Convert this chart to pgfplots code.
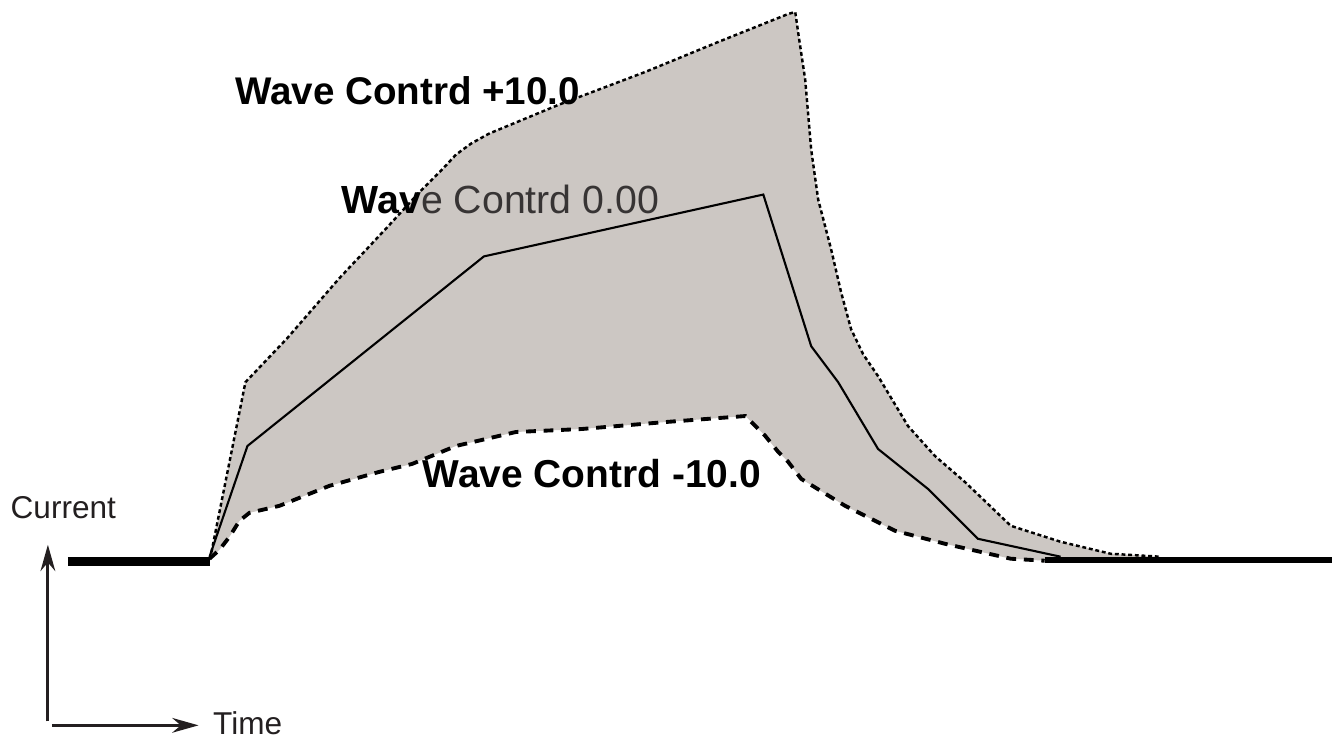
\documentclass[border=0pt]{standalone}
\usepackage{fontspec}
\setmainfont{Liberation Sans}
\usepackage{pgfplots}
\pgfplotsset{compat=1.18}
\usetikzlibrary{arrows.meta}
\definecolor{bandfill}{RGB}{204,199,195}
\definecolor{axisgray}{RGB}{35,31,32}
\definecolor{midtext}{RGB}{55,52,52}
\begin{document}
\begin{tikzpicture}
\begin{axis}[hide axis, scale only axis, width=13.35cm, height=7.4cm,
  xmin=0, xmax=1335, ymin=0, ymax=740, y dir=reverse, clip=false]
\path (rel axis cs:0,0) rectangle (rel axis cs:1,1);
% shaded band
\addplot[fill=bandfill, draw=none, mark=none] coordinates {
(210,560) (212,553) (246,383) (287,340) (340,279) (387,229) (420,193) (443,170)
(457,155) (472,144) (490,134) (560,105) (647,72) (720,42) (790,14) (797,12)
(800,33) (807,80) (813,150) (820,200) (833,250) (843,293) (853,330) (865,355)
(880,377) (910,427) (937,457) (967,483) (1013,527) (1063,543) (1113,555) (1163,558)
(1047,562) (1013,560) (947,545) (897,532) (847,507) (803,480) (790,463) (780,453)
(767,437) (753,423) (747,417) (667,423) (583,430) (517,433) (457,447) (413,465)
(380,473) (330,487) (280,507) (250,514) (240,522) (230,538) (220,551) (210,560)
} -- cycle;
% upper (+10.0)
\addplot[black, mark=none, line width=0.7pt, dash pattern=on 1.1pt off 0.8pt] coordinates {
(210,560) (212,553) (246,383) (287,340) (340,279) (387,229) (420,193) (443,170)
(457,155) (472,144) (490,134) (560,105) (647,72) (720,42) (790,14) (797,12)
(800,33) (807,80) (813,150) (820,200) (833,250) (843,293) (853,330) (865,355)
(880,377) (910,427) (937,457) (967,483) (1013,527) (1063,543) (1113,555) (1163,558)
};
% lower (-10.0)
\addplot[black, mark=none, line width=1.1pt, dash pattern=on 2.8pt off 2.2pt] coordinates {
(210,560) (220,551) (230,538) (240,522) (250,514) (280,507) (330,487) (380,473)
(413,465) (457,447) (517,433) (583,430) (667,423) (747,417) (753,423) (767,437)
(780,453) (790,463) (803,480) (847,507) (897,532) (947,545) (1013,560) (1047,562)
};
% middle (0.00)
\addplot[black, mark=none, line width=0.6pt] coordinates {
(210,558) (248,447) (485,257) (765,195) (813,347) (840,383) (880,450) (930,490)
(980,540) (1063,558)
};
% baselines
\addplot[black, mark=none, line width=2.6pt] coordinates {(68,563) (210,563)};
\addplot[black, mark=none, line width=1.7pt] coordinates {(1047,561) (1335,561)};
% axes arrows
\draw[axisgray, line width=0.8pt, -{Stealth[length=7.5pt,width=4.2pt]}] (axis cs:48,723) -- (axis cs:48,546);
\draw[axisgray, line width=0.8pt, -{Stealth[length=7.5pt,width=4.2pt]}] (axis cs:52,727) -- (axis cs:199,727);
% labels
\node[anchor=base west, inner sep=0pt, font=\fontsize{11}{13}\selectfont\bfseries] at (axis cs:235,105) {Wave Contrd +10.0};
\node[anchor=base west, inner sep=0pt, font=\fontsize{11.2}{13}\selectfont] at (axis cs:342,214) {\textbf{Wav}\textcolor{midtext}{e Contrd 0.00}};
\node[anchor=base west, inner sep=0pt, font=\fontsize{11.1}{13}\selectfont\bfseries] at (axis cs:423,489) {Wave Contrd -10.0};
\node[anchor=base west, inner sep=0pt, font=\fontsize{9}{11}\selectfont, text=axisgray] at (axis cs:10,520) {Current};
\node[anchor=base west, inner sep=0pt, font=\fontsize{9}{11}\selectfont, text=axisgray] at (axis cs:213,736) {Time};
\end{axis}
\end{tikzpicture}
\end{document}
